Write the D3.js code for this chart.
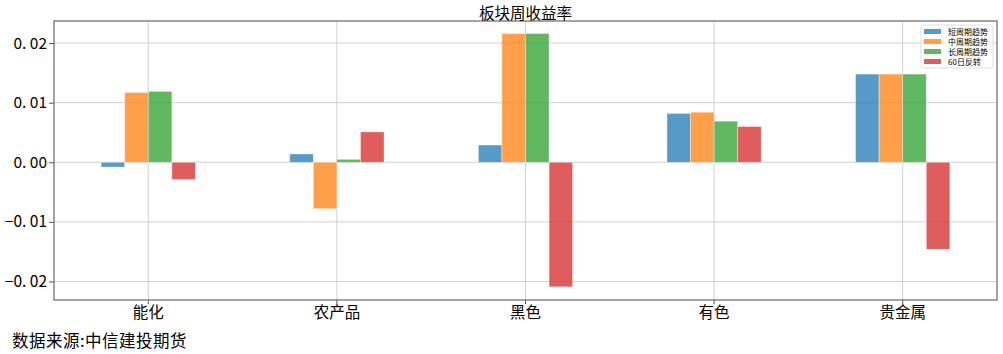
<!DOCTYPE html>
<html>
<head>
<meta charset="utf-8">
<script src="https://cdn.jsdelivr.net/npm/d3@7"></script>
<style>
  html, body { margin: 0; padding: 0; background: #fff; overflow: hidden; }
  svg { display: block; overflow: visible; }
  text { font-family: "Noto Sans CJK SC", "Noto Sans", sans-serif; }
</style>
</head>
<body>
<svg id="chart"></svg>
<script>
// chart data
const categories = ["能化", "农产品", "黑色", "有色", "贵金属"];
const seriesNames = ["短周期趋势", "中周期趋势", "长周期趋势", "60日反转"];
const shortTrend = [-0.0008, 0.0014, 0.0029, 0.0082, 0.0148];
const midTrend = [0.0117, -0.0078, 0.0216, 0.0084, 0.0148];
const longTrend = [0.0119, 0.0005, 0.0216, 0.0069, 0.0148];
const reversal60 = [-0.0029, 0.0051, -0.0209, 0.0060, -0.0146];
const yTicks = [-0.02, -0.01, 0.00, 0.01, 0.02];
const colors = ["#1f77b4", "#ff7f0e", "#2ca02c", "#d62728"];

const series = [shortTrend, midTrend, longTrend, reversal60];

const w = 1003, h = 354;
const margin = { top: 21, right: 6, bottom: 54, left: 54 };
const innerWidth = w - margin.left - margin.right;
const innerHeight = h - margin.top - margin.bottom;

const svg = d3.select("#chart").attr("width", w).attr("height", h);

const xScale = d3.scaleBand()
  .domain(categories)
  .range([0, innerWidth])
  .padding(0);

const yScale = d3.scaleLinear()
  .domain([-0.0231, 0.0237])
  .range([innerHeight, 0]);

// pandas style: 4 bars share half of each category slot
const subScale = d3.scaleBand()
  .domain(d3.range(seriesNames.length))
  .range([xScale.bandwidth() / 4, xScale.bandwidth() * 3 / 4])
  .padding(0);

const g = svg.append("g")
  .attr("transform", `translate(${margin.left},${margin.top})`);

// grid lines
g.append("g")
  .selectAll("line")
  .data(yTicks)
  .enter().append("line")
  .attr("x1", 0).attr("x2", innerWidth)
  .attr("y1", d => yScale(d)).attr("y2", d => yScale(d))
  .attr("stroke", "#d0d0d0").attr("stroke-width", 1);

g.append("g")
  .selectAll("line")
  .data(categories)
  .enter().append("line")
  .attr("x1", d => xScale(d) + xScale.bandwidth() / 2)
  .attr("x2", d => xScale(d) + xScale.bandwidth() / 2)
  .attr("y1", 0).attr("y2", innerHeight)
  .attr("stroke", "#d0d0d0").attr("stroke-width", 1);

// bars
series.forEach(function(vals, s) {
  g.append("g")
    .selectAll("rect")
    .data(vals)
    .enter().append("rect")
    .attr("x", (d, i) => xScale(categories[i]) + subScale(s))
    .attr("width", subScale.bandwidth())
    .attr("y", d => yScale(Math.max(0, d)))
    .attr("height", d => Math.abs(yScale(d) - yScale(0)))
    .attr("fill", colors[s])
    .attr("fill-opacity", 0.75)
    .attr("stroke", "#fff")
    .attr("stroke-opacity", 0.5)
    .attr("stroke-width", 0.8);
});

// axes
const fmt = d => (d < 0 ? "\u22120" : "0") + ".\u00a0" + d3.format(".2f")(Math.abs(d)).slice(2);
const yAxis = d3.axisLeft(yScale).tickValues(yTicks).tickFormat(fmt).tickSize(5).tickPadding(2);
const xAxis = d3.axisBottom(xScale).tickSize(4).tickPadding(3);

const ya = g.append("g").call(yAxis)
  .attr("font-size", null).attr("font-family", null);
ya.select(".domain").remove();
ya.selectAll("line").attr("stroke", "#555");
ya.selectAll("text").style("font-size", "15.5px").attr("fill", "#000");

const xa = g.append("g").attr("transform", `translate(0,${innerHeight})`).call(xAxis)
  .attr("font-size", null).attr("font-family", null);
xa.select(".domain").remove();
xa.selectAll("line").attr("stroke", "#555");
xa.selectAll("text").style("font-size", "15.5px").attr("fill", "#000");

// frame
g.append("rect")
  .attr("x", 0).attr("y", 0)
  .attr("width", innerWidth).attr("height", innerHeight)
  .attr("fill", "none").attr("stroke", "#666").attr("stroke-width", 1.2);

// title
svg.append("text")
  .attr("x", margin.left + innerWidth / 2).attr("y", 19)
  .attr("text-anchor", "middle")
  .style("font-size", "15.5px")
  .text("板块周收益率");

// legend
const legend = svg.append("g").attr("transform", `translate(${margin.left + innerWidth - 76},${margin.top + 4})`);
legend.append("rect")
  .attr("width", 72).attr("height", 43).attr("rx", 2)
  .attr("fill", "#fff").attr("fill-opacity", 0.8)
  .attr("stroke", "#ddd");
seriesNames.forEach(function(name, i) {
  legend.append("rect")
    .attr("x", 3).attr("y", 4 + i * 10)
    .attr("width", 17).attr("height", 5)
    .attr("fill", colors[i]).attr("fill-opacity", 0.75);
  legend.append("text")
    .attr("x", 27).attr("y", 9.5 + i * 10)
    .attr("font-size", 8)
    .text(name);
});

// source note
svg.append("text")
  .attr("x", 12).attr("y", 347)
  .attr("font-size", 16.5)
  .attr("letter-spacing", 0.5)
  .text("数据来源:中信建投期货");
</script>
</body>
</html>
